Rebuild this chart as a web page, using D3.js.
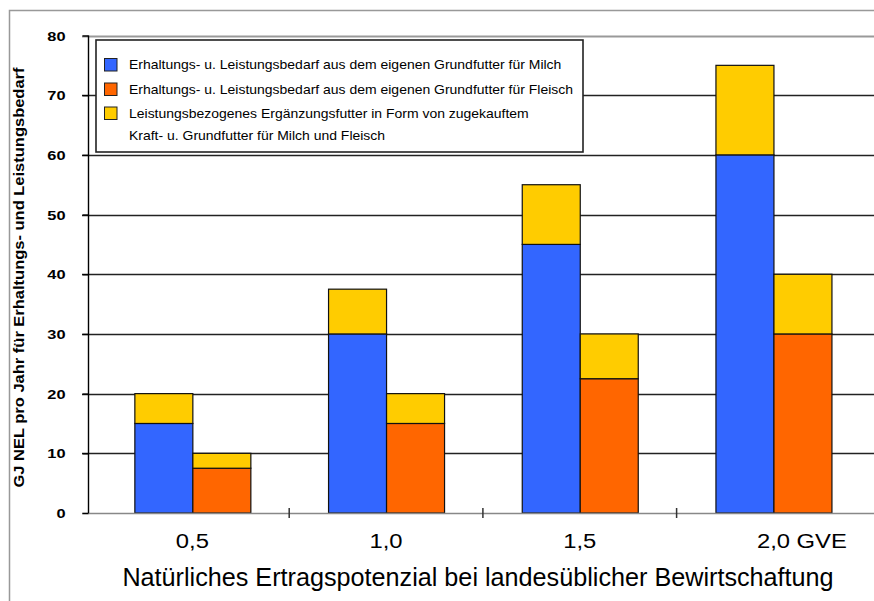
<!DOCTYPE html>
<html><head><meta charset="utf-8">
<script src="https://cdn.jsdelivr.net/npm/d3@7"></script>
<style>
html,body{margin:0;padding:0;background:#fff;}
text{font-family:"Liberation Sans",Arial,sans-serif;}
</style></head>
<body>
<svg id="chart" width="874" height="601"></svg>
<script>
// ---- data ----
const categories = ["0,5", "1,0", "1,5", "2,0"];
const milchGrund   = [15, 30, 45, 60];     // blue
const milchZukauf  = [5, 7.5, 10, 15];     // yellow on blue
const fleischGrund = [7.5, 15, 22.5, 30];  // orange
const fleischZukauf= [2.5, 5, 7.5, 10];    // yellow on orange
const yTicks = [0, 10, 20, 30, 40, 50, 60, 70, 80];
const legendLabels = [
  ["Erhaltungs- u. Leistungsbedarf aus dem eigenen Grundfutter für Milch"],
  ["Erhaltungs- u. Leistungsbedarf aus dem eigenen Grundfutter für Fleisch"],
  ["Leistungsbezogenes Ergänzungsfutter in Form von zugekauftem", "Kraft- u. Grundfutter für Milch und Fleisch"]
];
const yTitle = "GJ NEL pro Jahr für Erhaltungs- und Leistungsbedarf";
const xTitle = "Natürliches Ertragspotenzial bei landesüblicher Bewirtschaftung";
const unitSuffix = " GVE";

const colors = {blue:"#3366FF", orange:"#FF6600", yellow:"#FFCC00"};

const svg = d3.select("#chart");

// outer frame
svg.append("rect").attr("x",9.5).attr("y",10.5).attr("width",900).attr("height",700)
  .attr("fill","none").attr("stroke","#999").attr("stroke-width",1.5);

const y = d3.scaleLinear().domain([0,80]).range([513,35.5]);
const x = d3.scaleBand().domain(categories).range([95.5,870.3]).paddingInner(0).paddingOuter(0);
const sub = d3.scaleBand().domain(["milch","fleisch"]).range([0,116]);

// gridlines
svg.append("g").selectAll("line").data(yTicks.filter(d=>d>0)).join("line")
  .attr("x1",82).attr("x2",874)
  .attr("y1",d=>Math.round(y(d))+0.5).attr("y2",d=>Math.round(y(d))+0.5)
  .attr("stroke",d=>d===80?"#999":"#222").attr("stroke-width",d=>d===80?2:1.4);

// bars
const g = svg.append("g");
categories.forEach((c,i)=>{
  const cx = x(c) + x.bandwidth()/2 - 58;
  const stacks = [
    {key:"milch", parts:[[0,milchGrund[i],colors.blue],[milchGrund[i],milchGrund[i]+milchZukauf[i],colors.yellow]]},
    {key:"fleisch", parts:[[0,fleischGrund[i],colors.orange],[fleischGrund[i],fleischGrund[i]+fleischZukauf[i],colors.yellow]]}
  ];
  stacks.forEach(s=>{
    s.parts.forEach(([a,b,col])=>{
      g.append("rect")
        .attr("x",cx+sub(s.key)+0.5)
        .attr("y",y(b))
        .attr("width",sub.bandwidth())
        .attr("height",y(a)-y(b))
        .attr("fill",col).attr("stroke","#111").attr("stroke-width",1.2);
    });
  });
});

// baseline
svg.append("line").attr("x1",82).attr("x2",874).attr("y1",y(0)+0.5).attr("y2",y(0)+0.5)
  .attr("stroke","#888").attr("stroke-width",1.5);

// category separator ticks
svg.append("g").selectAll("line").data(categories.slice(1)).join("line")
  .attr("x1",d=>x(d)).attr("x2",d=>x(d)).attr("y1",y(0)-5).attr("y2",y(0)+5)
  .attr("stroke","#333").attr("stroke-width",1.5);

// y axis
const yAxis = d3.axisLeft(y).tickValues(yTicks).tickSize(6).tickPadding(0).tickFormat(d3.format("d"));
const ya = svg.append("g").attr("transform","translate(88.5,0)").call(yAxis);
ya.select(".domain").attr("stroke","#000").attr("stroke-width",1.4).attr("d","M0,"+y(80)+"V"+y(0));
ya.selectAll(".tick line").attr("stroke","#000").attr("stroke-width",1.4);
ya.selectAll(".tick text")
  .attr("x",0).attr("dy","0.36em")
  .attr("transform","translate(-23,0) scale(1.28,1)")
  .attr("font-family","Liberation Sans, Arial, sans-serif")
  .attr("font-size",12.8).attr("font-weight","bold").attr("fill","#000");

// x tick labels (horizontally widened like the original)
const xl = svg.append("g").selectAll("g").data(categories).join("g")
  .attr("transform",d=>`translate(${x(d)+x.bandwidth()/2},548) scale(1.19,1)`);
xl.append("text").attr("text-anchor","middle").attr("font-size",20).attr("fill","#000").text(d=>d);
xl.filter((d,i)=>i===categories.length-1).select("text").each(function(d){
  const w = this.getComputedTextLength();
  d3.select(this).attr("text-anchor","start").attr("x",-w/2).text(d+unitSuffix);
});

// x title
svg.append("text").attr("x",478).attr("y",586).attr("text-anchor","middle")
  .attr("font-size",25.2).attr("fill","#000").text(xTitle);

// y title
svg.append("text").attr("transform","translate(24,277.5) rotate(-90) scale(1.1,1)")
  .attr("text-anchor","middle").attr("font-size",15).attr("font-weight","bold").attr("fill","#000")
  .text(yTitle);

// legend
const lg = svg.append("g");
lg.append("rect").attr("x",96).attr("y",40).attr("width",487).attr("height",112)
  .attr("fill","#fff").attr("stroke","#222").attr("stroke-width",1.6);
const legendColors = [colors.blue, colors.orange, colors.yellow];
const rowY = [64.5, 89, 113];
legendLabels.forEach((lines,i)=>{
  lg.append("rect").attr("x",104.5).attr("y",rowY[i]-6).attr("width",12.5).attr("height",12.5)
    .attr("fill",legendColors[i]).attr("stroke","#222").attr("stroke-width",1);
  lines.forEach((ln,j)=>{
    lg.append("text").attr("transform",`translate(129,${rowY[i]+4.5+j*22}) scale(1.145,1)`)
      .attr("font-size",12.2).attr("fill","#000").text(ln);
  });
});
</script>
</body></html>
